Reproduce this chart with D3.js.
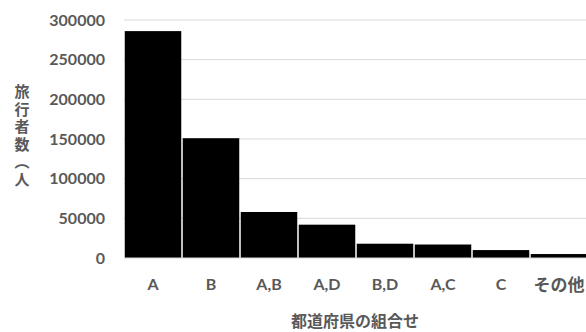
<!DOCTYPE html>
<html>
<head>
<meta charset="utf-8">
<script src="https://cdn.jsdelivr.net/npm/d3@7"></script>
<style>
  html, body { margin: 0; padding: 0; background: #fff; }
  svg { display: block; }
</style>
</head>
<body>
<svg id="chart" width="586" height="332"></svg>
<script>
// Travellers by combination of prefectures
const categories = ["A", "B", "A,B", "A,D", "B,D", "A,C", "C", "その他"];
const travellers = [286000, 151000, 58000, 42000, 18000, 17000, 10000, 5000];
const yTicks = [0, 50000, 100000, 150000, 200000, 250000, 300000];
const xTitle = "都道府県の組合せ";
const yTitle = "旅行者数（人";

const svg = d3.select("#chart");
const grey = "#595959";
const latin = "Lato, 'Noto Sans', sans-serif";
const cjk = "'Noto Sans CJK JP', sans-serif";

const x = d3.scaleBand().domain(categories).range([124, 588]).padding(0);
const y = d3.scaleLinear().domain([0, 300000]).range([258, 20]);

// gridlines
svg.append("g")
  .selectAll("line")
  .data(yTicks.filter(d => d > 0))
  .join("line")
  .attr("x1", 124).attr("x2", 586)
  .attr("y1", d => y(d)).attr("y2", d => y(d))
  .attr("stroke", "#d9d9d9").attr("stroke-width", 1);

// bars
svg.append("g")
  .selectAll("rect")
  .data(categories.map((c, i) => ({ c, v: travellers[i] })))
  .join("rect")
  .attr("x", d => x(d.c) + 0.75)
  .attr("width", x.bandwidth() - 1.5)
  .attr("y", d => y(d.v))
  .attr("height", d => y(0) - y(d.v))
  .attr("fill", "#000");

// baseline
svg.append("line")
  .attr("x1", 124).attr("x2", 586)
  .attr("y1", y(0)).attr("y2", y(0))
  .attr("stroke", "#d9d9d9").attr("stroke-width", 1);

// y axis
const yAxis = d3.axisLeft(y).tickValues(yTicks).tickFormat(d3.format("d")).tickSize(0).tickPadding(0);
const gy = svg.append("g").attr("transform", "translate(105,0)").call(yAxis);
gy.select(".domain").remove();
gy.selectAll("text")
  .attr("fill", grey)
  .style("font-family", latin)
  .style("font-weight", "bold")
  .style("font-size", "16px");

// x axis
const xAxis = d3.axisBottom(x).tickSize(0).tickPadding(0);
const gx = svg.append("g").attr("transform", "translate(0,283)").call(xAxis);
gx.select(".domain").remove();
gx.selectAll("text")
  .attr("fill", grey)
  .attr("dy", null)
  .attr("dominant-baseline", "central")
  .style("font-family", d => /^[A-Z,]+$/.test(d) ? latin : cjk)
  .style("font-weight", "bold")
  .style("font-size", d => /^[A-Z,]+$/.test(d) ? "16px" : "17px");

// x title
svg.append("text")
  .attr("x", 355).attr("y", 320)
  .attr("text-anchor", "middle")
  .attr("dominant-baseline", "central")
  .attr("fill", grey)
  .style("font-family", cjk)
  .style("font-weight", "bold")
  .style("font-size", "16px")
  .text(xTitle);

// y title, set vertically
svg.append("text")
  .attr("x", 22).attr("y", 84)
  .attr("fill", grey)
  .style("writing-mode", "vertical-rl")
  .style("font-family", cjk)
  .style("font-weight", "bold")
  .style("font-size", "15px")
  .style("letter-spacing", "2.5px")
  .text(yTitle);
</script>
</body>
</html>
